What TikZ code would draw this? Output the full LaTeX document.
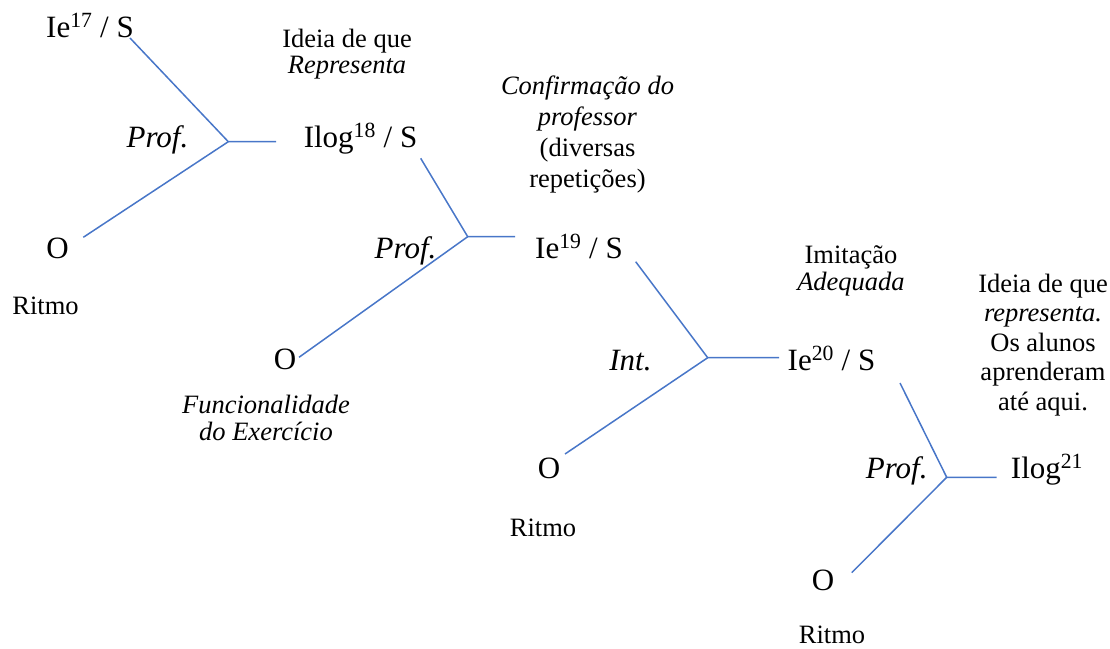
\documentclass[tikz,border=0pt]{standalone}
\usepackage{fontspec}
\setmainfont{Liberation Serif}
\usepackage{xcolor}
\usepackage{tikz}

\definecolor{branchblue}{RGB}{72,118,200}

\tikzset{
  branch/.style={draw=branchblue, line width=1.5pt},
  lbl/.style={anchor=base, inner sep=0pt, font=\fontsize{31}{34}\selectfont},
  note/.style={anchor=base, inner sep=0pt, align=center, font=\fontsize{26.5}{29}\selectfont},
}

\begin{document}
\begin{tikzpicture}[x=1pt, y=-1pt]
        \useasboundingbox (0,0) rectangle (1110,648);

        \coordinate (J1) at (228.3, 141.7);
        \coordinate (J1Up) at (130, 38);
        \coordinate (J1Right) at (276, 141.7);
        \coordinate (J1Down) at (83.3, 237.3);

        \coordinate (J2) at (467.7, 236.7);
        \coordinate (J2Up) at (420.7, 158.3);
        \coordinate (J2Right) at (515, 236.7);
        \coordinate (J2Down) at (299, 357.3);

        \coordinate (J3) at (707.7, 357.7);
        \coordinate (J3Up) at (635.7, 261.7);
        \coordinate (J3Right) at (779, 357.7);
        \coordinate (J3Down) at (565, 454);

        \coordinate (J4) at (946.7, 477.3);
        \coordinate (J4Up) at (900, 383);
        \coordinate (J4Right) at (996.7, 477.3);
        \coordinate (J4Down) at (851.7, 572.7);

        \node[lbl] (Ie17) at (90, 37) {Ie\textsuperscript{17} / S};
        \node[lbl] (Ilog18) at (360.5, 147) {Ilog\textsuperscript{18} / S};
        \node[lbl] (Ie19) at (579, 258) {Ie\textsuperscript{19} / S};
        \node[lbl] (Ie20) at (831.5, 370) {Ie\textsuperscript{20} / S};
        \node[lbl] (Ilog21) at (1047, 478) {Ilog\textsuperscript{21}};

        \node[lbl] (ProfA) at (157.5, 147) {\textit{Prof.}};
        \node[lbl] (ProfB) at (405.5, 258) {\textit{Prof.}};
        \node[lbl] (IntC) at (630.5, 370) {\textit{Int.}};
        \node[lbl] (ProfD) at (896.7, 478) {\textit{Prof.}};

        \node[lbl] (OA) at (57.5, 258) {O};
        \node[lbl] (OB) at (285, 369) {O};
        \node[lbl] (OC) at (549, 478) {O};
        \node[lbl] (OD) at (823, 590) {O};

        \node[note] (RitmoA) at (45.5, 314) {Ritmo};
        \node[note] (RitmoC) at (543, 536) {Ritmo};
        \node[note] (RitmoD) at (832, 643) {Ritmo};

        % base anchor = last line of the block
        \node[note, font=\fontsize{26.5}{26}\selectfont] (IdeiaA) at (347, 73) {Ideia de que\\\textit{Representa}};
        \node[note, font=\fontsize{26.5}{31}\selectfont] (Confirm) at (587.5, 187) {\textit{Confirmação do}\\\textit{professor}\\(diversas\\repetições)};
        \node[note, font=\fontsize{26.5}{27}\selectfont] (Funcional) at (266, 440) {\textit{Funcionalidade}\\\textit{do Exercício}};
        \node[note, font=\fontsize{26.5}{27}\selectfont] (Imitacao) at (851, 290) {Imitação\\\textit{Adequada}};
        \node[note, font=\fontsize{26.5}{29.5}\selectfont] (IdeiaD) at (1043, 410) {Ideia de que\\\textit{representa.}\\Os alunos\\aprenderam\\até aqui.};

        \draw[branch] (J1Up) -- (J1) -- (J1Right);
        \draw[branch] (J1) -- (J1Down);
        \draw[branch] (J2Up) -- (J2) -- (J2Right);
        \draw[branch] (J2) -- (J2Down);
        \draw[branch] (J3Up) -- (J3) -- (J3Right);
        \draw[branch] (J3) -- (J3Down);
        \draw[branch] (J4Up) -- (J4) -- (J4Right);
        \draw[branch] (J4) -- (J4Down);

\end{tikzpicture}
\end{document}
